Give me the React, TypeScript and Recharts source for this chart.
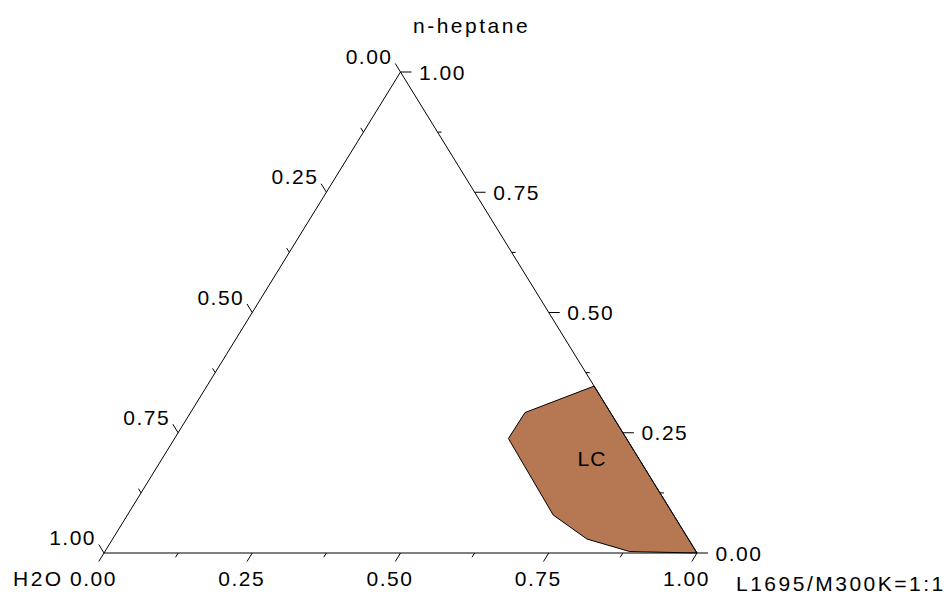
import { ComposedChart, XAxis, YAxis, Scatter } from 'recharts'

// tick positions along each side (fractions), labels on every second one
const tickValues = [0, 0.125, 0.25, 0.375, 0.5, 0.625, 0.75, 0.875, 1]
const tickLabels = ['0.00', '', '0.25', '', '0.50', '', '0.75', '', '1.00']

// corners: given as (L1695 fraction, n-heptane fraction)
const cornerNames = ['H2O', 'L1695/M300K=1:1', 'n-heptane']
const cornerL1695 = [0, 1, 0]
const cornerHeptane = [0, 0, 1]

// LC region boundary
const lcL1695 = [1.0, 0.885, 0.8, 0.718, 0.563, 0.564, 0.653]
const lcHeptane = [0.0, 0.003, 0.029, 0.079, 0.238, 0.292, 0.347]

const regionNames = ['LC']
const regionL1695 = [0.724]
const regionHeptane = [0.198]

const W = 945
const H = 597
const margin = { top: 72, right: 248, bottom: 44, left: 104 }
const PW = W - margin.left - margin.right
const PH = H - margin.top - margin.bottom

// unit vector along the left edge (pixel space)
const edgeLen = Math.hypot(PW / 2, PH)
const ux = PW / 2 / edgeLen
const uy = PH / edgeLen

const textStyle = {
  fontFamily: '"Liberation Sans", Arial, sans-serif',
  fontSize: 21,
  fill: '#000',
  letterSpacing: 1.5,
}

const toXY = (l1695: number, heptane: number) => ({ x: l1695 + heptane / 2, y: heptane })

const triangle = [0, 1, 2, 0].map((i) => toXY(cornerL1695[i], cornerHeptane[i]))
const corners = cornerNames.map((name, i) => ({ ...toXY(cornerL1695[i], cornerHeptane[i]), name }))
const lcData = [...lcL1695, lcL1695[0]].map((b, i) => toXY(b, [...lcHeptane, lcHeptane[0]][i]))
const regionData = regionNames.map((name, i) => ({ ...toXY(regionL1695[i], regionHeptane[i]), name }))

// bottom side: L1695 fraction, right side: n-heptane, left side: H2O
const bottomTicks = tickValues.map((t, i) => ({ ...toXY(t, 0), label: tickLabels[i] }))
const rightTicks = tickValues.map((t, i) => ({ ...toXY(1 - t, t), label: tickLabels[i] }))
const leftTicks = tickValues.map((t, i) => ({ ...toXY(0, 1 - t), label: tickLabels[i] }))

function BottomTick(props: any) {
  const { cx, cy, payload } = props
  const major = payload.label !== ''
  const len = major ? 10 : 5
  return (
    <g>
      <line x1={cx} y1={cy} x2={cx - ux * len} y2={cy + uy * len} stroke="#000" />
      {major && (
        <text x={cx - 10.5} y={cy + 33} textAnchor="middle" {...textStyle}>
          {payload.label}
        </text>
      )}
    </g>
  )
}

function RightTick(props: any) {
  const { cx, cy, payload } = props
  const major = payload.label !== ''
  const len = major ? 11 : 4
  return (
    <g>
      <line x1={cx} y1={cy} x2={cx + len} y2={cy} stroke="#000" />
      {major && (
        <text x={cx + 18.5} y={cy + 7.5} textAnchor="start" {...textStyle}>
          {payload.label}
        </text>
      )}
    </g>
  )
}

function LeftTick(props: any) {
  const { cx, cy, payload } = props
  const major = payload.label !== ''
  const len = major ? 10 : 5
  return (
    <g>
      <line x1={cx} y1={cy} x2={cx - ux * len} y2={cy - uy * len} stroke="#000" />
      {major && (
        <text x={cx - 8} y={cy - 8} textAnchor="end" {...textStyle}>
          {payload.label}
        </text>
      )}
    </g>
  )
}

const cornerOffsets = [
  { dx: -91, dy: 33 },
  { dx: 39, dy: 38 },
  { dx: 12.5, dy: -39 },
]

function CornerLabel(props: any) {
  const { cx, cy, payload, index } = props
  const off = cornerOffsets[index] ?? { dx: 0, dy: 0 }
  return (
    <text x={cx + off.dx} y={cy + off.dy} textAnchor="start" {...textStyle} letterSpacing={2.5}>
      {payload.name}
    </text>
  )
}

function RegionLabel(props: any) {
  const { cx, cy, payload } = props
  return (
    <text x={cx} y={cy + 8} textAnchor="middle" {...textStyle} letterSpacing={1}>
      {payload.name}
    </text>
  )
}

export default function App() {
  return (
    <div style={{ position: 'absolute', left: 0, top: 0, width: W, height: H, background: '#fff' }}>
      <ComposedChart width={W} height={H} margin={margin}>
        <XAxis type="number" dataKey="x" domain={[0, 1]} hide />
        <YAxis type="number" dataKey="y" domain={[0, 1]} hide />
        <Scatter
          data={lcData}
          line={{ stroke: '#000', strokeWidth: 1, fill: '#B57853' }}
          lineJointType="linear"
          shape={() => <g />}
          isAnimationActive={false}
        />
        <Scatter
          data={triangle}
          line={{ stroke: '#000', strokeWidth: 1 }}
          lineJointType="linear"
          shape={() => <g />}
          isAnimationActive={false}
        />
        <Scatter data={bottomTicks} shape={BottomTick} isAnimationActive={false} />
        <Scatter data={rightTicks} shape={RightTick} isAnimationActive={false} />
        <Scatter data={leftTicks} shape={LeftTick} isAnimationActive={false} />
        <Scatter data={corners} shape={CornerLabel} isAnimationActive={false} />
        <Scatter data={regionData} shape={RegionLabel} isAnimationActive={false} />
      </ComposedChart>
    </div>
  )
}
